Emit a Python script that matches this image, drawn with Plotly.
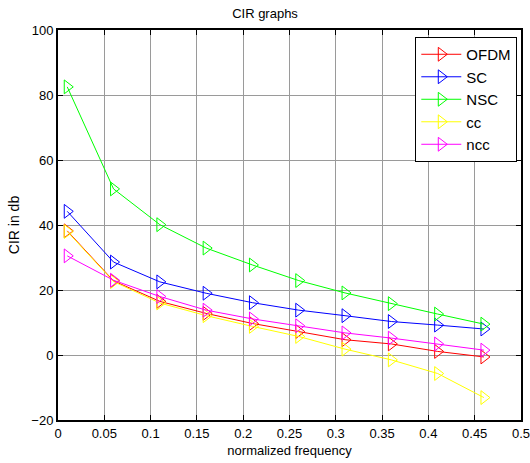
import plotly.graph_objects as go

freq = [0.01, 0.06, 0.11, 0.16, 0.21, 0.26, 0.31, 0.36, 0.41, 0.46]
ofdm = [38.2, 22.8, 16.5, 12.8, 9.7, 7.2, 4.7, 3.4, 1.1, -0.6]
sc = [44.2, 28.6, 22.5, 19.0, 16.1, 13.8, 12.1, 10.3, 9.2, 8.0]
nsc = [82.5, 51.1, 40.1, 32.9, 27.7, 22.9, 19.1, 15.8, 12.6, 9.5]
cc = [38.0, 22.6, 16.0, 12.1, 8.8, 5.7, 1.8, -1.5, -5.7, -13.1]
ncc = [30.5, 23.0, 18.0, 13.8, 11.1, 9.0, 6.8, 5.2, 3.4, 1.5]

series = [("OFDM", ofdm, "#ff0000"), ("SC", sc, "#0000ff"), ("NSC", nsc, "#00ff00"),
          ("cc", cc, "#ffff00"), ("ncc", ncc, "#ff00ff")]

fig = go.Figure()
for name, vals, col in series:
    fig.add_trace(go.Scatter(
        x=freq, y=vals, name=name, mode="lines+markers",
        line=dict(color=col, width=1),
        marker=dict(symbol="triangle-right-open", size=12, color=col, line=dict(width=1, color=col)),
    ))

FF = "Liberation Sans, Arial, sans-serif"
font = dict(family=FF, size=13, color="black")
axis_common = dict(showline=True, linecolor="black", linewidth=2, mirror="ticks",
                   ticks="inside", ticklen=5, tickcolor="black", showgrid=True,
                   gridcolor="#9a9a9a", gridwidth=1, zeroline=False, tickfont=font,
                   automargin=False, ticklabeloverflow="allow")

fig.update_layout(
    width=530, height=463,
    margin=dict(l=58, r=9, t=30, b=43),
    paper_bgcolor="white", plot_bgcolor="white",
    font=font,
    title=dict(text="CIR graphs", x=0.5, xanchor="center", y=0.972, yanchor="middle",
               automargin=False,
               font=dict(family=FF, size=13, color="black")),
    xaxis=dict(range=[0, 0.5], dtick=0.05, tick0=0,
               title=dict(text="normalized frequency", standoff=6,
                          font=dict(family=FF, size=13)),
               **axis_common),
    yaxis=dict(range=[-20, 100], dtick=20,
               title=dict(text="CIR in db", standoff=8,
                          font=dict(family=FF, size=14)),
               **axis_common),
    legend=dict(x=0.992, y=0.982, xanchor="right", yanchor="top",
                bordercolor="black", borderwidth=1, bgcolor="white",
                font=dict(family=FF, size=15, color="black"),
                tracegroupgap=0, itemwidth=40),
    showlegend=True,
)

fig.write_html("out.html",
               config={"displayModeBar": False},
               post_script="document.body.style.margin='0';document.body.style.overflow='hidden';")
